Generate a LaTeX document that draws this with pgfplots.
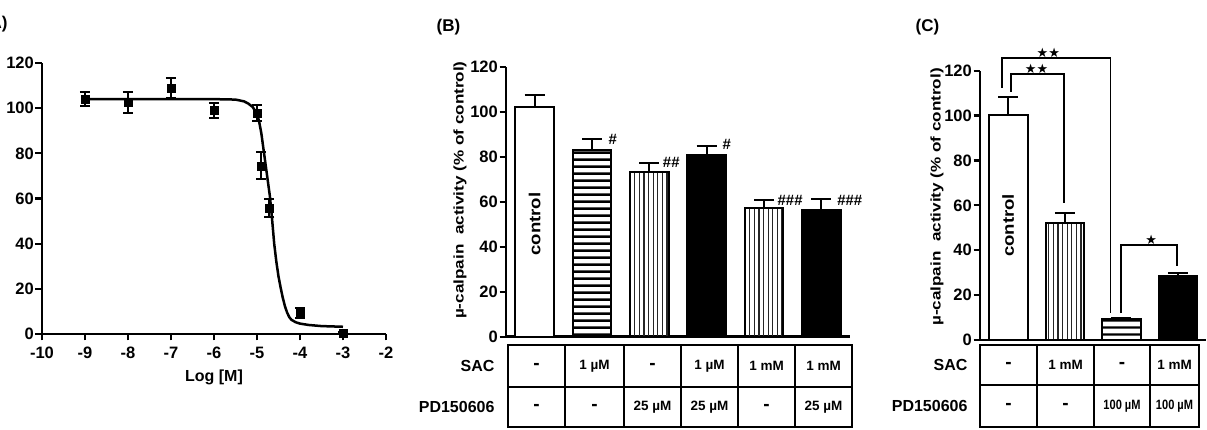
\documentclass[border=0pt]{standalone}
\usepackage{fontspec}
\setmainfont{Liberation Sans}
\newfontfamily\ylabfont[FakeStretch=1.22]{Liberation Sans}
\newfontfamily\ctlfont[FakeStretch=1.16]{Liberation Sans}
\newfontfamily\djv{DejaVu Sans}
\usepackage{pgfplots}
\pgfplotsset{compat=1.18}
\usetikzlibrary{patterns.meta}
\newcommand\fs[1]{\fontsize{#1}{#1}\selectfont}

\pgfplotsset{
  base/.style={
    scale only axis, anchor=south west,
    axis lines=left, axis line style={-, line width=2.4pt, black},
    every tick/.style={black, line width=2.2pt},
    major tick length=6.5pt, tick align=outside,
    ymin=0, ymax=120, ytick={0,20,...,120},
    /pgf/number format/assume math mode=true,
    yticklabel style={font=\fs{16.5}\bfseries, inner xsep=1.5pt},
    xticklabel style={font=\fs{16.5}\bfseries},
    ylabel={µ-calpain\ \ activity (\% of control)},
    ylabel style={font=\ylabfont\fs{14}\bfseries, anchor=center},
    clip=false,
  },
  barax/.style={base, ybar, bar width=38.5pt, xtick=\empty, xmin=-0.5},
  errs/.style={error bars/.cd, y dir=plus, y explicit,
    error bar style={line width=2pt, black, solid},
    error mark options={rotate=90, mark size=10pt, line width=2pt, black}},
  hl/.style={pattern={Lines[angle=0,distance=7.4pt,line width=2.6pt]}, pattern color=black},
  vl/.style={pattern={Lines[angle=90,distance=4.6pt,line width=1.3pt]}, pattern color=black!85},
  barsty/.style={draw=black, line width=2pt, bar shift=0pt},
}

\begin{document}
\begin{tikzpicture}
% ---------------- (A) ----------------
\begin{axis}[base, at={(42pt,96pt)}, width=344pt, height=271pt,
  xmin=-10, xmax=-2, xtick={-10,-9,...,-2},
  xticklabels={-10,-9,-8,-7,-6,-5,-4,-3,-2},
  xticklabel style={yshift=-3pt},
  xlabel={Log [M]}, xlabel style={font=\fs{16}\bfseries, at={(axis description cs:0.5,0)}, anchor=center, yshift=-43pt},
  ylabel style={at={(axis description cs:-0.146,0.543)}}]
\addplot[line width=2.5pt, black, no marks] coordinates {
 (-9,104) (-8,104) (-7,104) (-6,104) (-5.5,103.8) (-5.3,103) (-5.2,102) (-5.1,100.5)
 (-5.0,97.5) (-4.95,94) (-4.9,89) (-4.85,82) (-4.8,75) (-4.75,68) (-4.7,61)
 (-4.65,51) (-4.6,40) (-4.55,32) (-4.5,25.5) (-4.45,20.5) (-4.4,16) (-4.35,12.3)
 (-4.3,9.5) (-4.25,7.5) (-4.2,6.3) (-4.1,5.2) (-4.0,4.6) (-3.8,4.0) (-3.5,3.5) (-3,3.2)};
\addplot[only marks, mark=square*, mark size=4pt, black,
  error bars/.cd, y dir=both, y explicit,
  error bar style={line width=2pt, black},
  error mark options={rotate=90, mark size=5pt, line width=2pt, black}]
 coordinates {
 (-9,104) +- (0,3)
 (-8,102.6) +- (0,4.7)
 (-7,108.9) +- (0,4.5)
 (-6,98.9) +- (0,3.4)
 (-5,97.9) +- (0,3.6)
 (-4.9,74.5) +- (0,6)
 (-4.71,55.6) +- (0,4)
 (-4,9.3) +- (0,2)
 (-3,0.4) +- (0,0.5)};
\end{axis}
% ---------------- (B) ----------------
\begin{axis}[barax, at={(506pt,93.3pt)}, width=344pt, height=270pt, xmax=5.5,
  ylabel style={at={(axis description cs:-0.1337,0.543)}}]
\addplot[barsty, fill=white, errs] coordinates {(0,102.2) +- (0,5)};
\addplot[barsty, hl, errs] coordinates {(1,83) +- (0,4.8)};
\addplot[barsty, vl, errs] coordinates {(2,73.3) +- (0,4)};
\addplot[barsty, fill=black, errs] coordinates {(3,80.8) +- (0,4)};
\addplot[barsty, vl, errs] coordinates {(4,57.1) +- (0,3.7)};
\addplot[barsty, fill=black, errs] coordinates {(5,56.3) +- (0,5)};
\node[rotate=90, font=\ctlfont\fs{16}\bfseries] at (axis cs:0,50) {control};
\node[anchor=west, inner sep=0pt, font=\fs{15}\bfseries\itshape] at (axis cs:1.28,87.6) {\#};
\node[anchor=west, inner sep=0pt, font=\fs{15}\bfseries\itshape] at (axis cs:2.23,77.5) {\#\#};
\node[anchor=west, inner sep=0pt, font=\fs{15}\bfseries\itshape] at (axis cs:3.27,85.5) {\#};
\node[anchor=west, inner sep=0pt, font=\fs{15}\bfseries\itshape] at (axis cs:4.23,60.8) {\#\#\#};
\node[anchor=west, inner sep=0pt, font=\fs{15}\bfseries\itshape] at (axis cs:5.27,60.8) {\#\#\#};
\end{axis}
% ---------------- (C) ----------------
\begin{axis}[barax, at={(980pt,90pt)}, width=226pt, height=269.3pt, xmax=3.5,
  ylabel style={at={(axis description cs:-0.19,0.531)}}]
\addplot[barsty, fill=white, errs] coordinates {(0,100.3) +- (0,8)};
\addplot[barsty, vl, errs] coordinates {(1,52) +- (0,4.5)};
\addplot[barsty, hl, errs] coordinates {(2,9.2) +- (0,0.6)};
\addplot[barsty, fill=black, errs] coordinates {(3,28.5) +- (0,1.5)};
\node[rotate=90, font=\ctlfont\fs{16}\bfseries] at (axis cs:0,51) {control};
\draw[line width=1.8pt] (axis cs:-0.11,112.3) |- (axis cs:1.81,125.5) -- (axis cs:1.81,12);
\draw[line width=1.8pt] (axis cs:0.05,110.6) |- (axis cs:0.99,118.4) -- (axis cs:0.99,61);
\draw[line width=1.8pt] (axis cs:2.0,12) |- (axis cs:2.98,42.3) -- (axis cs:2.98,33);
\node[anchor=south, inner sep=0.5pt, font=\djv\fs{13}] at (axis cs:0.71,125.5) {★★};
\node[anchor=south, inner sep=0.5pt, font=\djv\fs{13}] at (axis cs:0.5,118.4) {★★};
\node[anchor=south, inner sep=0.5pt, font=\djv\fs{13}] at (axis cs:2.53,42.3) {★};
\end{axis}
% ---------------- panel letters ----------------
\node[anchor=east, font=\fs{17}\bfseries] at (11pt,406pt) {(A)};
\node[font=\fs{17}\bfseries] at (448.5pt,403pt) {(B)};
\node[font=\fs{17}\bfseries] at (927.5pt,403pt) {(C)};
% ---------------- table (B) ----------------
\begin{scope}[line width=1.5pt]
\draw (508pt,3pt) rectangle (852pt,85pt);
\draw (508pt,43pt) -- (852pt,43pt);
\foreach \x in {565,624,681,738,795} \draw (\x pt,3pt) -- (\x pt,85pt);
\end{scope}
\node[anchor=east, font=\fs{16}\bfseries] at (498pt,64pt) {SAC};
\node[anchor=east, font=\fs{16}\bfseries] at (498pt,23pt) {PD150606};
\foreach \x/\t in {594.5/1 µM,709.5/1 µM,766.5/1 mM,823.5/1 mM}
  \node[font=\fs{13.5}\bfseries] at (\x pt,64pt) {\t};
\foreach \x in {536.5,652.5}
  \node[font=\fs{19}\bfseries] at (\x pt,64pt) {-};
\foreach \x/\t in {652.5/25 µM,709.5/25 µM,823.5/25 µM}
  \node[font=\fs{13.5}\bfseries] at (\x pt,23pt) {\t};
\foreach \x in {536.5,594.5,766.5}
  \node[font=\fs{19}\bfseries] at (\x pt,23pt) {-};
% ---------------- table (C) ----------------
\begin{scope}[line width=1.5pt]
\draw (980pt,3pt) rectangle (1199pt,85pt);
\draw (980pt,45pt) -- (1199pt,45pt);
\foreach \x in {1037,1094,1150} \draw (\x pt,3pt) -- (\x pt,85pt);
\end{scope}
\node[anchor=east, font=\fs{16}\bfseries] at (971pt,65pt) {SAC};
\node[anchor=east, font=\fs{16}\bfseries] at (971pt,24pt) {PD150606};
\foreach \x/\t in {1065.5/1 mM,1174.5/1 mM}
  \node[font=\fs{13.5}\bfseries] at (\x pt,65pt) {\t};
\foreach \x in {1008.5,1122}
  \node[font=\fs{19}\bfseries] at (\x pt,65pt) {-};
\foreach \x in {1008.5,1065.5}
  \node[font=\fs{19}\bfseries] at (\x pt,24pt) {-};
\node[font=\fs{13.5}\bfseries] at (1122pt,24pt) {\scalebox{0.82}[1]{100 µM}};
\node[font=\fs{13.5}\bfseries] at (1174.5pt,24pt) {\scalebox{0.82}[1]{100 µM}};
\pgfresetboundingbox
\useasboundingbox (0pt,0pt) rectangle (1207pt,430pt);
\end{tikzpicture}
\end{document}
